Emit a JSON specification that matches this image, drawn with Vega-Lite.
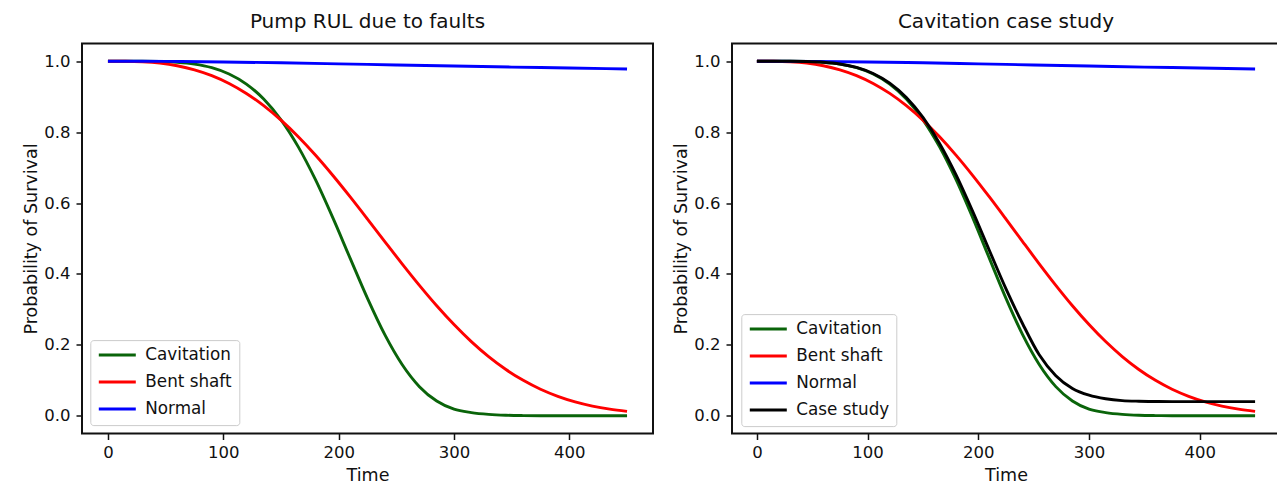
{
  "$schema": "https://vega.github.io/schema/vega-lite/v6.json",
  "background": "white",
  "padding": {"left": 21, "top": 10.5, "right": 0, "bottom": 0},
  "config": {
    "font": "DejaVu Sans",
    "view": {"stroke": "#111", "strokeWidth": 2},
    "axis": {"grid": false, "domain": false, "tickColor": "#111", "tickSize": 6, "tickWidth": 1.5, "labelFontSize": 16.5, "labelColor": "#111", "titleFontSize": 17.5, "titleFontWeight": "normal", "titleColor": "#111", "labelPadding": 5},
    "axisY": {"titlePadding": 3, "labelPadding": 6},
    "axisX": {"titlePadding": 5},
    "title": {"fontSize": 20, "fontWeight": "normal", "color": "#111", "baseline": "alphabetic", "offset": 12, "anchor": "middle"}
  },
  "datasets": {
    "curves": [
      {"t": 0, "s": 1.0, "series": "Cavitation"},
      {"t": 15, "s": 1.0, "series": "Cavitation"},
      {"t": 30, "s": 0.9999, "series": "Cavitation"},
      {"t": 45, "s": 0.9992, "series": "Cavitation"},
      {"t": 60, "s": 0.997, "series": "Cavitation"},
      {"t": 75, "s": 0.9919, "series": "Cavitation"},
      {"t": 90, "s": 0.9818, "series": "Cavitation"},
      {"t": 105, "s": 0.964, "series": "Cavitation"},
      {"t": 120, "s": 0.9356, "series": "Cavitation"},
      {"t": 135, "s": 0.8934, "series": "Cavitation"},
      {"t": 150, "s": 0.8348, "series": "Cavitation"},
      {"t": 165, "s": 0.7585, "series": "Cavitation"},
      {"t": 180, "s": 0.6652, "series": "Cavitation"},
      {"t": 195, "s": 0.558, "series": "Cavitation"},
      {"t": 210, "s": 0.4439, "series": "Cavitation"},
      {"t": 225, "s": 0.331, "series": "Cavitation"},
      {"t": 240, "s": 0.2287, "series": "Cavitation"},
      {"t": 255, "s": 0.1446, "series": "Cavitation"},
      {"t": 270, "s": 0.0822, "series": "Cavitation"},
      {"t": 285, "s": 0.0415, "series": "Cavitation"},
      {"t": 300, "s": 0.0185, "series": "Cavitation"},
      {"t": 315, "s": 0.009, "series": "Cavitation"},
      {"t": 330, "s": 0.004, "series": "Cavitation"},
      {"t": 345, "s": 0.0015, "series": "Cavitation"},
      {"t": 360, "s": 0.0005, "series": "Cavitation"},
      {"t": 375, "s": 0.0001, "series": "Cavitation"},
      {"t": 390, "s": 0.0, "series": "Cavitation"},
      {"t": 405, "s": 0.0, "series": "Cavitation"},
      {"t": 420, "s": 0.0, "series": "Cavitation"},
      {"t": 435, "s": 0.0, "series": "Cavitation"},
      {"t": 450, "s": 0.0, "series": "Cavitation"},
      {"t": 0, "s": 1.0, "series": "Bent shaft"},
      {"t": 15, "s": 0.9998, "series": "Bent shaft"},
      {"t": 30, "s": 0.9983, "series": "Bent shaft"},
      {"t": 45, "s": 0.9945, "series": "Bent shaft"},
      {"t": 60, "s": 0.9873, "series": "Bent shaft"},
      {"t": 75, "s": 0.9759, "series": "Bent shaft"},
      {"t": 90, "s": 0.9595, "series": "Bent shaft"},
      {"t": 105, "s": 0.9374, "series": "Bent shaft"},
      {"t": 120, "s": 0.9092, "series": "Bent shaft"},
      {"t": 135, "s": 0.8746, "series": "Bent shaft"},
      {"t": 150, "s": 0.8337, "series": "Bent shaft"},
      {"t": 165, "s": 0.7869, "series": "Bent shaft"},
      {"t": 180, "s": 0.7346, "series": "Bent shaft"},
      {"t": 195, "s": 0.6776, "series": "Bent shaft"},
      {"t": 210, "s": 0.6172, "series": "Bent shaft"},
      {"t": 225, "s": 0.5547, "series": "Bent shaft"},
      {"t": 240, "s": 0.4913, "series": "Bent shaft"},
      {"t": 255, "s": 0.4286, "series": "Bent shaft"},
      {"t": 270, "s": 0.3679, "series": "Bent shaft"},
      {"t": 285, "s": 0.3104, "series": "Bent shaft"},
      {"t": 300, "s": 0.2574, "series": "Bent shaft"},
      {"t": 315, "s": 0.2093, "series": "Bent shaft"},
      {"t": 330, "s": 0.167, "series": "Bent shaft"},
      {"t": 345, "s": 0.1306, "series": "Bent shaft"},
      {"t": 360, "s": 0.0999, "series": "Bent shaft"},
      {"t": 375, "s": 0.0748, "series": "Bent shaft"},
      {"t": 390, "s": 0.0548, "series": "Bent shaft"},
      {"t": 405, "s": 0.0391, "series": "Bent shaft"},
      {"t": 420, "s": 0.0273, "series": "Bent shaft"},
      {"t": 435, "s": 0.0186, "series": "Bent shaft"},
      {"t": 450, "s": 0.0123, "series": "Bent shaft"},
      {"t": 0, "s": 1.0, "series": "Normal"},
      {"t": 50, "s": 0.9995, "series": "Normal"},
      {"t": 100, "s": 0.998, "series": "Normal"},
      {"t": 150, "s": 0.9955, "series": "Normal"},
      {"t": 200, "s": 0.9925, "series": "Normal"},
      {"t": 250, "s": 0.9895, "series": "Normal"},
      {"t": 300, "s": 0.9865, "series": "Normal"},
      {"t": 350, "s": 0.9835, "series": "Normal"},
      {"t": 400, "s": 0.981, "series": "Normal"},
      {"t": 450, "s": 0.978, "series": "Normal"},
      {"t": 0, "s": 1.0, "series": "Case study"},
      {"t": 15, "s": 1.0, "series": "Case study"},
      {"t": 30, "s": 0.9999, "series": "Case study"},
      {"t": 45, "s": 0.9992, "series": "Case study"},
      {"t": 60, "s": 0.9971, "series": "Case study"},
      {"t": 75, "s": 0.9922, "series": "Case study"},
      {"t": 90, "s": 0.9825, "series": "Case study"},
      {"t": 105, "s": 0.9654, "series": "Case study"},
      {"t": 120, "s": 0.9382, "series": "Case study"},
      {"t": 135, "s": 0.8977, "series": "Case study"},
      {"t": 150, "s": 0.8414, "series": "Case study"},
      {"t": 165, "s": 0.7682, "series": "Case study"},
      {"t": 180, "s": 0.6786, "series": "Case study"},
      {"t": 195, "s": 0.5757, "series": "Case study"},
      {"t": 210, "s": 0.4661, "series": "Case study"},
      {"t": 225, "s": 0.3578, "series": "Case study"},
      {"t": 240, "s": 0.2596, "series": "Case study"},
      {"t": 255, "s": 0.172, "series": "Case study"},
      {"t": 270, "s": 0.113, "series": "Case study"},
      {"t": 285, "s": 0.077, "series": "Case study"},
      {"t": 300, "s": 0.058, "series": "Case study"},
      {"t": 315, "s": 0.048, "series": "Case study"},
      {"t": 330, "s": 0.0428, "series": "Case study"},
      {"t": 345, "s": 0.041, "series": "Case study"},
      {"t": 360, "s": 0.0403, "series": "Case study"},
      {"t": 375, "s": 0.04, "series": "Case study"},
      {"t": 390, "s": 0.04, "series": "Case study"},
      {"t": 405, "s": 0.04, "series": "Case study"},
      {"t": 420, "s": 0.04, "series": "Case study"},
      {"t": 435, "s": 0.04, "series": "Case study"},
      {"t": 450, "s": 0.04, "series": "Case study"}
    ]
  },
  "spacing": 79,
  "bounds": "flush",
  "resolve": {"scale": {"color": "independent"}, "legend": {"color": "independent"}},
  "hconcat": [
    {
      "title": "Pump RUL due to faults",
      "width": 571,
      "height": 390,
      "data": {"name": "curves"},
      "transform": [{"filter": "datum.series != 'Case study'"}],
      "mark": {"type": "line", "strokeWidth": 2.9, "interpolate": "monotone"},
      "encoding": {
        "x": {"field": "t", "type": "quantitative", "title": "Time", "scale": {"domain": [-22.5, 472.5], "nice": false, "zero": false}, "axis": {"values": [0, 100, 200, 300, 400]}},
        "y": {"field": "s", "type": "quantitative", "title": "Probability of Survival", "scale": {"domain": [-0.05, 1.05], "nice": false, "zero": false}, "axis": {"values": [0, 0.2, 0.4, 0.6, 0.8, 1.0], "format": ".1f"}},
        "color": {
          "field": "series", "type": "nominal",
          "scale": {"domain": ["Cavitation", "Bent shaft", "Normal"], "range": ["#0a640a", "#ff0000", "#0000ff"]},
          "legend": {"title": null, "orient": "none", "legendX": 8.3, "legendY": 296.6, "symbolType": "stroke", "symbolSize": 1369, "symbolStrokeWidth": 3, "clipHeight": 16, "rowPadding": 10, "labelOffset": 8, "padding": 7, "fillColor": "rgba(255,255,255,0.8)", "strokeColor": "#cccccc", "cornerRadius": 3, "labelFontSize": 16.8, "labelColor": "#111"}
        }
      }
    },
    {
      "title": "Cavitation case study",
      "width": 548,
      "height": 390,
      "data": {"name": "curves"},
      "mark": {"type": "line", "strokeWidth": 2.9, "interpolate": "monotone"},
      "encoding": {
        "x": {"field": "t", "type": "quantitative", "title": "Time", "scale": {"domain": [-22.5, 472.5], "nice": false, "zero": false}, "axis": {"values": [0, 100, 200, 300, 400]}},
        "y": {"field": "s", "type": "quantitative", "title": "Probability of Survival", "scale": {"domain": [-0.05, 1.05], "nice": false, "zero": false}, "axis": {"values": [0, 0.2, 0.4, 0.6, 0.8, 1.0], "format": ".1f"}},
        "color": {
          "field": "series", "type": "nominal",
          "scale": {"domain": ["Cavitation", "Bent shaft", "Normal", "Case study"], "range": ["#0a640a", "#ff0000", "#0000ff", "#000000"]},
          "legend": {"title": null, "orient": "none", "legendX": 9.3, "legendY": 270.6, "symbolType": "stroke", "symbolSize": 1369, "symbolStrokeWidth": 3, "clipHeight": 16, "rowPadding": 10, "labelOffset": 8, "padding": 7, "fillColor": "rgba(255,255,255,0.8)", "strokeColor": "#cccccc", "cornerRadius": 3, "labelFontSize": 16.8, "labelColor": "#111"}
        }
      }
    }
  ]
}
